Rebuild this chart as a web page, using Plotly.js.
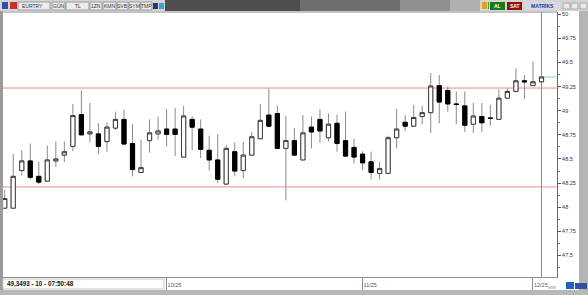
<!DOCTYPE html>
<html><head><meta charset="utf-8">
<script src="https://cdn.plot.ly/plotly-3.0.1.min.js"></script>
<style>html,body{margin:0;padding:0;background:#fff;overflow:hidden}#chart{width:588px;height:295px}</style>
</head><body><div id="chart"></div>
<script>
// ---- data (EURTRY daily candles) ----
const dayIndex = Array.from({length:64},(_,i)=>i);
const openP  = [47.99,47.99,48.38,48.48,48.32,48.27,48.48,48.54,48.63,48.96,48.76,48.76,48.68,48.82,48.91,48.66,48.36,48.69,48.76,48.81,48.81,48.52,48.91,48.81,48.59,48.49,48.24,48.575,48.38,48.54,48.71,48.955,48.97,48.61,48.69,48.49,48.83,48.91,48.72,48.87,48.69,48.62,48.55,48.47,48.35,48.35,48.72,48.88,48.84,48.94,48.98,49.26,49.21,49.07,49.05,48.86,48.94,48.925,48.91,49.13,49.20,49.31,49.26,49.30];
const highP  = [48.18,48.55,48.59,48.66,48.47,48.64,48.68,48.68,49.07,49.21,49.08,48.87,48.88,48.99,49.01,48.86,48.70,48.91,48.94,49.02,49.03,49.05,48.94,48.91,48.74,48.76,48.645,48.67,48.675,48.78,49.07,49.23,49.05,48.945,48.82,48.955,48.94,49.015,48.97,48.96,48.99,48.71,48.58,48.575,48.47,48.74,49.02,48.955,49.06,49.05,49.39,49.37,49.25,49.20,49.20,49.08,49.08,49.06,49.22,49.23,49.44,49.37,49.51,49.35];
const lowP   = [47.99,47.99,48.33,48.29,48.24,48.27,48.42,48.47,48.58,48.75,48.67,48.55,48.575,48.80,48.64,48.32,48.36,48.565,48.70,48.63,48.53,48.52,48.59,48.51,48.38,48.25,48.24,48.32,48.30,48.54,48.71,48.83,48.61,48.07,48.54,48.49,48.61,48.67,48.68,48.575,48.52,48.455,48.385,48.29,48.29,48.35,48.61,48.79,48.84,48.86,48.77,48.87,48.99,48.86,48.78,48.77,48.78,48.845,48.91,49.13,49.19,49.12,49.26,49.30];
const closeP = [48.09,48.32,48.48,48.31,48.26,48.49,48.50,48.575,48.95,48.75,48.78,48.63,48.83,48.91,48.655,48.39,48.41,48.77,48.79,48.755,48.755,48.945,48.83,48.60,48.49,48.29,48.61,48.375,48.54,48.73,48.90,48.84,48.61,48.69,48.54,48.77,48.78,48.79,48.86,48.66,48.53,48.52,48.46,48.36,48.40,48.72,48.81,48.84,48.93,48.98,49.256,49.09,49.07,49.065,48.85,48.945,48.875,48.92,49.13,49.20,49.31,49.30,49.30,49.3493];
const monthTickIndex = [19, 42, 62];
const monthTickText  = ["10/25", "11/25", "12/25"];
const yTickVals = [47.5,47.75,48,48.25,48.5,48.75,49,49.25,49.5,49.75,50];
const yTickText = ["47.5","47.75","48","48.25","48.5","48.75","49","49.25","49.5","49.75","50"];
const levelLines = [49.235, 48.21];
const lastPrice = 49.3493;
const statusText = "49,3493 - 10 - 07:50:48";
const symbol = "EURTRY";

// ---- pixel helpers for the frame decorations ----
const W=588,H=295, L=3, R=31, T=12, B=18;
const pw=W-L-R, ph=H-T-B;
const px=(v)=>(v-L)/pw, py=(v)=>(H-B-v)/ph;
const font='Liberation Sans, Arial, sans-serif';

const bodyHigh = openP.map((o,i)=>Math.max(o,closeP[i]));
const bodyLow  = openP.map((o,i)=>Math.min(o,closeP[i]));

const traces = [
  { type:'candlestick', x:dayIndex, open:openP, high:highP, low:lowP, close:closeP,
    increasing:{line:{color:'#8a8a8a',width:1}, fillcolor:'#ffffff'},
    decreasing:{line:{color:'#8a8a8a',width:1}, fillcolor:'#000000'},
    whiskerwidth:0, hoverinfo:'skip', showlegend:false },
  { type:'candlestick', x:dayIndex, open:openP, high:bodyHigh, low:bodyLow, close:closeP,
    increasing:{line:{color:'#3a3a3a',width:1}, fillcolor:'#ffffff'},
    decreasing:{line:{color:'#000000',width:1}, fillcolor:'#000000'},
    whiskerwidth:0, hoverinfo:'skip', showlegend:false }
];

const shapes = [];
const ann = [];
function rect(x0,y0,x1,y1,fill,line){shapes.push({type:'rect',xref:'paper',yref:'paper',x0:px(x0),x1:px(x1),y0:py(y1),y1:py(y0),fillcolor:fill,line:{width:line?1:0,color:line||'rgba(0,0,0,0)'},layer:'above'});}
function txt(x,y,t,size,color,anchor,bold){ann.push({xref:'paper',yref:'paper',x:px(x),y:py(y),text:bold?'<b>'+t+'</b>':t,showarrow:false,xanchor:anchor||'left',yanchor:'middle',font:{family:font,size:size,color:color}});}

// level lines
levelLines.forEach(v=>shapes.push({type:'line',xref:'paper',yref:'y',x0:0,x1:1,y0:v,y1:v,line:{color:'#f08c8c',width:1},layer:'below'}));
// last price line
shapes.push({type:'line',xref:'x',yref:'y',x0:63,x1:64.82,y0:lastPrice,y1:lastPrice,line:{color:'#7fd8d8',width:1},layer:'below'});
// crosshair vertical
shapes.push({type:'line',xref:'x',yref:'paper',x0:63,x1:63,y0:0,y1:1,line:{color:'#8c8c8c',width:1},layer:'below'});

// toolbar
rect(0,0,588,11,'#d4d4d4');
rect(165,0,480,11,'#4e4e4e');
rect(300,0,480,11,'#6e6e6e');
rect(400,0,480,11,'#909090');
rect(450,0,480,11,'#b0b0b0');
rect(2,2,8,9,'#3050b0');
rect(10,2,17,9,'#c83030');
rect(18,2,50,10,'#ececec','#9a9a9a'); txt(20,6,symbol,5,'#333');
rect(52,2,65,10,'#ececec','#9a9a9a'); txt(58.5,6,'GÜN',5,'#333','center');
rect(66,2,89,10,'#ececec','#9a9a9a'); txt(77.5,6,'TL',5,'#333','center');
rect(90,2,102,10,'#ececec','#9a9a9a'); txt(96,6,'1ZN',5,'#333','center');
rect(103,2,116,10,'#ececec','#9a9a9a'); txt(109.5,6,'KMN',5,'#333','center');
rect(117,2,128,10,'#ececec','#9a9a9a'); txt(122.5,6,'SVB',5,'#333','center');
rect(129,2,140,10,'#ececec','#9a9a9a'); txt(134.5,6,'SYM',5,'#333','center');
rect(141,2,152,10,'#ececec','#9a9a9a'); txt(146.5,6,'TMP',5,'#333','center');
rect(153,3,158,9,'#1a3a80');
rect(159,3,164,9,'#3aa0e0');
rect(482,2,487,9,'#e0a020');
rect(488,2,489,9,'#40a040');
rect(490,2,505,10,'#1a7a1a'); txt(497.5,6,'AL',5,'#ffffff','center',true);
rect(507,2,522,10,'#901010'); txt(514.5,6,'SAT',5,'#ffffff','center',true);
rect(525,2,560,10,'#d8d8e0'); txt(542.5,6,'MATRİKS',5,'#2a3a90','center',true);
rect(563,3,570,9,'#e8e8e8','#aaa'); rect(571,3,578,9,'#e8e8e8','#aaa'); rect(580,3,587,9,'#e8e8e8','#aaa');

// frame
rect(0,11,3,290,'#9a9a9a');
rect(579,11,588,290,'#b4b4b4');
rect(0,290,588,295,'#b8b8b8');
rect(3,279,164,289,'#ffffff','#c8c8c8');
txt(5,284,statusText,6.3,'#111','left',true);
rect(548,286,556,289,'#d0d0d0');
rect(566,282,574,289,'#2060c0');
rect(575,283,587,289,'#3050a0');
shapes.push({type:'line',xref:'paper',yref:'paper',x0:0,x1:1,y0:1,y1:1,line:{color:'#888',width:1},layer:'above'});

const layout = {
  width:W, height:H, margin:{l:L,r:R,t:T,b:B,pad:0},
  paper_bgcolor:'#ffffff', plot_bgcolor:'#ffffff', showlegend:false,
  xaxis:{range:[-0.2,64.82], tickvals:monthTickIndex, ticktext:monthTickText,
    ticks:'outside', ticklen:13, tickcolor:'#8c8c8c', tickwidth:1,
    ticklabelposition:'outside right', ticklabelstandoff:2,
    tickfont:{family:font,size:5.5,color:'#555'},
    showgrid:false, zeroline:false, showline:true, linecolor:'#8c8c8c', linewidth:1,
    rangeslider:{visible:false}, fixedrange:true},
  yaxis:{side:'right', range:[47.277,50.023], tickvals:yTickVals, ticktext:yTickText,
    ticks:'outside', ticklen:3, tickcolor:'#555', tickfont:{family:font,size:5.5,color:'#333'},
    minor:{ticks:'outside', ticklen:2, tickcolor:'#777', dtick:0.125, tick0:47.5},
    showgrid:false, zeroline:false, showline:true, linecolor:'#6a6a6a', linewidth:1, fixedrange:true},
  shapes:shapes, annotations:ann
};
Plotly.newPlot('chart', traces, layout, {staticPlot:true, displayModeBar:false});
</script></body></html>
